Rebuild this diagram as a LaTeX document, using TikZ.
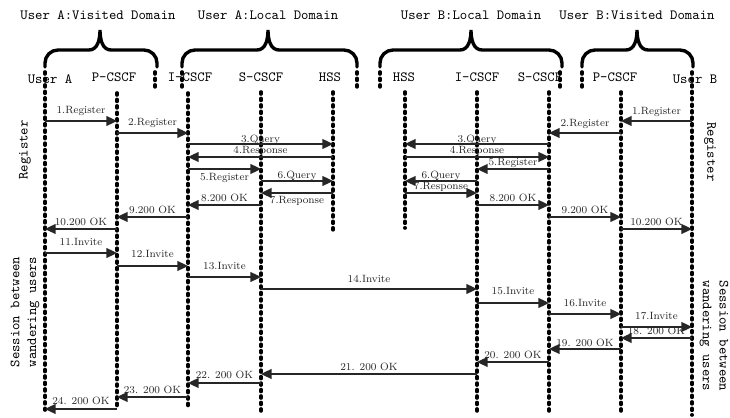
\documentclass[tikz,border=0pt]{standalone}
\usepackage{tikz}
\usetikzlibrary{arrows.meta}
\tikzset{next/.style={->, >={Triangle[length=7.5pt, width=7pt]}, line width=.9pt, black!85}}
\tikzset{lifeline/.style={line width=2.6pt, line cap=round, dash pattern=on 1.4pt off 3.2pt}}
\tikzset{domainbrace/.style={line width=2.4pt, line cap=round}}
\tikzset{msglabel/.style={inner sep=0pt, font=\fontsize{7.5}{8}\selectfont, text height=5pt, text depth=1.5pt, text=black!85}}
\tikzset{entity/.style={inner sep=0pt, font=\ttfamily}}
\newcommand{\bracedomain}[3]{\draw[domainbrace] (#1,67) -- (#1,63) to[out=90, in=180] (#1+13,50) -- (#3-11,50) to[out=0, in=-90] (#3,30) to[out=-90, in=180] (#3+11,50) -- (#2-13,50) to[out=0, in=90] (#2,63) -- (#2,67);}

\begin{document}
\begin{tikzpicture}[x=.025cm, y=-.025cm]
  \useasboundingbox (0,0) rectangle (730,418);

  % --- domains ---
  \node[entity] (visA) at (98,15) {User A:Visited Domain};
  \node[entity] (locA) at (268,15) {User A:Local Domain};
  \node[entity] (locB) at (471,15) {User B:Local Domain};
  \node[entity] (visB) at (637,15) {User B:Visited Domain};
  \bracedomain{45}{157}{100}
  \bracedomain{182}{357}{268}
  \bracedomain{380}{562}{471}
  \bracedomain{582}{693}{637}

  % --- entities ---
  \node[entity] (userA) at (50,79) {User A};
  \node[entity] (pcscfA) at (114,77) {P-CSCF};
  \node[entity] (icscfA) at (190,77) {I-CSCF};
  \node[entity] (scscfA) at (261,77) {S-CSCF};
  \node[entity] (hssA) at (330,77) {HSS};
  \node[entity] (hssB) at (404,77) {HSS};
  \node[entity] (icscfB) at (477,77) {I-CSCF};
  \node[entity] (scscfB) at (540,77) {S-CSCF};
  \node[entity] (pcscfB) at (615,77) {P-CSCF};
  \node[entity] (userB) at (695,79) {User B};

  % --- lifelines ---
  \foreach \name/\x/\top/\bot in {ua/45/72/410, pa/117/93/408, ia/188/93/408, sa/261/92/412,
      ha/333/92/230, hb/405/92/228, ib/477/92/415, sb/549/92/415, pb/621/92/415, ub/692/72/415} {
    \coordinate (\name) at (\x,0);
    \draw[lifeline] (\name|-0,\top) -- (\name|-0,\bot);
  }
  \foreach \x in {155,182,357,380,560,582}
    \draw[lifeline] (\x,72) -- (\x,90);

  % --- phases ---
  \node[entity, rotate=90] (regA) at (25,150) {Register};
  \node[entity, rotate=-90] (regB) at (710,152) {Register};
  \node[entity, rotate=90, align=left] (sessA) at (25,312) {Session between\\wandering users};
  \node[entity, rotate=-90, align=left] (sessB) at (714,336) {Session between\\wandering users};

  % --- register user A ---
  \draw[next] (ua|-0,121) -- node[msglabel, above=3.1pt] (ra1) {1.Register} (pa|-0,121);
  \draw[next] (pa|-0,133) -- node[msglabel, above=3.1pt] (ra2) {2.Register} (ia|-0,133);
  \draw[next] (ia|-0,144) -- node[msglabel, above=-1.1pt] (ra3) {3.Query} (ha|-0,144);
  \draw[next] (ha|-0,157) -- node[msglabel, above=.3pt] (ra4) {4.Response} (ia|-0,157);
  \draw[next] (ia|-0,169) -- node[msglabel, below=2.4pt] (ra5) {5.Register} (sa|-0,169);
  \draw[next] (sa|-0,181) -- node[msglabel, above=-.4pt] (ra6) {6.Query} (ha|-0,181);
  \draw[next] (ha|-0,193) -- node[msglabel, below=1.7pt] (ra7) {7.Response} (sa|-0,193);
  \draw[next] (sa|-0,205) -- node[msglabel, above=.3pt] (ra8) {8.200 OK} (ia|-0,205);
  \draw[next] (ia|-0,217) -- node[msglabel, above=.3pt] (ra9) {9.200 OK} (pa|-0,217);
  \draw[next] (pa|-0,229) -- node[msglabel, above=.3pt] (ra10) {10.200 OK} (ua|-0,229);

  % --- register user B ---
  \draw[next] (ub|-0,121) -- node[msglabel, above=2.4pt] (rb1) {1.Register} (pb|-0,121);
  \draw[next] (pb|-0,133) -- node[msglabel, above=2.4pt] (rb2) {2.Register} (sb|-0,133);
  \draw[next] (sb|-0,144) -- node[msglabel, above=-1.1pt] (rb3) {3.Query} (hb|-0,144);
  \draw[next] (hb|-0,157) -- node[msglabel, above=.3pt] (rb4) {4.Response} (sb|-0,157);
  \draw[next] (sb|-0,169) -- node[msglabel, above=.3pt] (rb5) {5.Register} (ib|-0,169);
  \draw[next] (ib|-0,181) -- node[msglabel, above=-.4pt] (rb6) {6.Query} (hb|-0,181);
  \draw[next] (hb|-0,193) -- node[msglabel, above=.3pt] (rb7) {7.Response} (ib|-0,193);
  \draw[next] (ib|-0,205) -- node[msglabel, above=.3pt] (rb8) {8.200 OK} (sb|-0,205);
  \draw[next] (sb|-0,217) -- node[msglabel, above=.3pt] (rb9) {9.200 OK} (pb|-0,217);
  \draw[next] (pb|-0,229) -- node[msglabel, above=.3pt] (rb10) {10.200 OK} (ub|-0,229);

  % --- session ---
  \draw[next] (ua|-0,253) -- node[msglabel, above=3.1pt] (s11) {11.Invite} (pa|-0,253);
  \draw[next] (pa|-0,266) -- node[msglabel, above=3.9pt] (s12) {12.Invite} (ia|-0,266);
  \draw[next] (ia|-0,277) -- node[msglabel, above=3.1pt] (s13) {13.Invite} (sa|-0,277);
  \draw[next] (sa|-0,289) -- node[msglabel, above=2.4pt] (s14) {14.Invite} (ib|-0,289);
  \draw[next] (ib|-0,303) -- node[msglabel, above=3.9pt] (s15) {15.Invite} (sb|-0,303);
  \draw[next] (sb|-0,314) -- node[msglabel, above=3.1pt] (s16) {16.Invite} (pb|-0,314);
  \draw[next] (pb|-0,327) -- node[msglabel, above=3.1pt] (s17) {17.Invite} (ub|-0,327);
  \draw[next] (ub|-0,338) -- node[msglabel, above=.3pt] (s18) {18. 200 OK} (pb|-0,338);
  \draw[next] (pb|-0,349) -- node[msglabel, above=-.4pt] (s19) {19. 200 OK} (sb|-0,349);
  \draw[next] (sb|-0,362) -- node[msglabel, above=.3pt] (s20) {20. 200 OK} (ib|-0,362);
  \draw[next] (ib|-0,374) -- node[msglabel, above=.3pt] (s21) {21. 200 OK} (sa|-0,374);
  \draw[next] (sa|-0,383) -- node[msglabel, above=1pt] (s22) {22. 200 OK} (ia|-0,383);
  \draw[next] (ia|-0,397) -- node[msglabel, above=.3pt] (s23) {23. 200 OK} (pa|-0,397);
  \draw[next] (pa|-0,409) -- node[msglabel, above=1pt] (s24) {24. 200 OK} (ua|-0,409);
\end{tikzpicture}
\end{document}
